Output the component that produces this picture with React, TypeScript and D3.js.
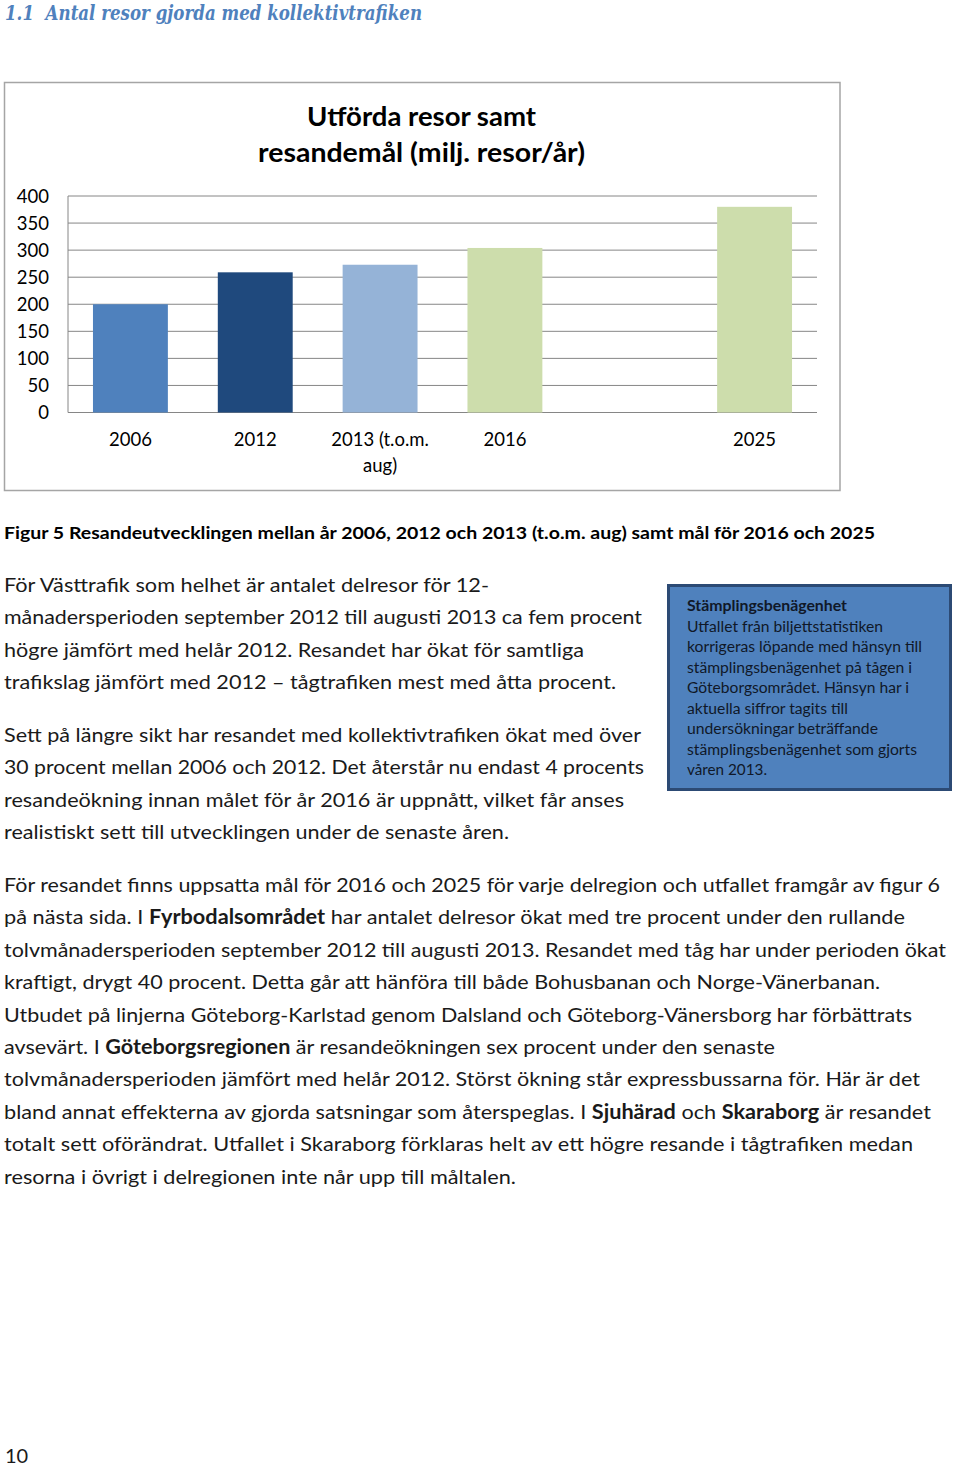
import React, { useEffect } from 'react';
import * as d3 from 'd3';

// ---- Chart data ----
const categories = ['2006', '2012', '2013 (t.o.m.|aug)', '2016', '', '2025'];
const values: (number | null)[] = [200, 259, 273, 304, null, 380];
const barColors = ['#4F81BD', '#1F497D', '#95B3D7', '#CDDDAC', 'none', '#CDDDAC'];
const yTicks = [0, 50, 100, 150, 200, 250, 300, 350, 400];
const chartTitle = ['Utförda resor samt', 'resandemål (milj. resor/år)'];
const chartTitleWidths = [229, 327];

// ---- Document text ----
const heading = '1.1  Antal resor gjorda med kollektivtrafiken';
const caption = 'Figur 5 Resandeutvecklingen mellan år 2006, 2012 och 2013 (t.o.m. aug) samt mål för 2016 och 2025';
const para1 = [
  'För Västtrafik som helhet är antalet delresor för 12-',
  'månadersperioden september 2012 till augusti 2013 ca fem procent',
  'högre jämfört med helår 2012. Resandet har ökat för samtliga',
  'trafikslag jämfört med 2012 – tågtrafiken mest med åtta procent.',
];
const para1Ends = [489, 642, 584, 616];
const para2 = [
  'Sett på längre sikt har resandet med kollektivtrafiken ökat med över',
  '30 procent mellan 2006 och 2012. Det återstår nu endast 4 procents',
  'resandeökning innan målet för år 2016 är uppnått, vilket får anses',
  'realistiskt sett till utvecklingen under de senaste åren.',
];
const para2Ends = [641, 644, 624, 509];
const para3 = [
  'För resandet finns uppsatta mål för 2016 och 2025 för varje delregion och utfallet framgår av figur 6',
  'på nästa sida. I **Fyrbodalsområdet** har antalet delresor ökat med tre procent under den rullande',
  'tolvmånadersperioden september 2012 till augusti 2013. Resandet med tåg har under perioden ökat',
  'kraftigt, drygt 40 procent. Detta går att hänföra till både Bohusbanan och Norge-Vänerbanan.',
  'Utbudet på linjerna Göteborg-Karlstad genom Dalsland och Göteborg-Vänersborg har förbättrats',
  'avsevärt. I **Göteborgsregionen** är resandeökningen sex procent under den senaste',
  'tolvmånadersperioden jämfört med helår 2012. Störst ökning står expressbussarna för. Här är det',
  'bland annat effekterna av gjorda satsningar som återspeglas. I **Sjuhärad** och **Skaraborg** är resandet',
  'totalt sett oförändrat. Utfallet i Skaraborg förklaras helt av ett högre resande i tågtrafiken medan',
  'resorna i övrigt i delregionen inte når upp till måltalen.',
];
const para3Ends = [940, 905, 946, 880, 912, 775, 920, 931, 913, 516];
const boxLines = [
  '**Stämplingsbenägenhet**',
  'Utfallet från biljettstatistiken',
  'korrigeras löpande med hänsyn till',
  'stämplingsbenägenhet på tågen i',
  'Göteborgsområdet. Hänsyn har i',
  'aktuella siffror tagits till',
  'undersökningar beträffande',
  'stämplingsbenägenhet som gjorts',
  'våren 2013.',
];
const boxEnds = [847, 883, 922, 912, 909, 848, 878, 917, 767];

const FONT = 'Lato, "Open Sans", sans-serif';

function Line(props: {
  x: number; y: number; text: string; end?: number; size: number;
  weight?: string; fill?: string; family?: string; italic?: boolean;
}) {
  const { x, y, text, end, size, weight = 'normal', fill = '#1a1a1a', family = FONT, italic } = props;
  const parts = text.split('**');
  return (
    <text
      x={x}
      y={y}
      fontSize={size}
      fontFamily={family}
      fontWeight={weight}
      fontStyle={italic ? 'italic' : 'normal'}
      fill={fill}
      textLength={end !== undefined ? end - x : undefined}
      lengthAdjust="spacingAndGlyphs"
      style={{ whiteSpace: 'pre' }}
    >
      {parts.map((p, i) => (
        <tspan key={i} fontWeight={i % 2 === 1 ? 'bold' : weight}>{p}</tspan>
      ))}
    </text>
  );
}

export default function App() {
  useEffect(() => {
    document.body.style.margin = '0';
  }, []);

  const W = 960;
  const H = 1467;

  // chart geometry
  const plotLeft = 68;
  const plotRight = 817;
  const plotTop = 196;
  const plotBottom = 412.5;

  const x = d3
    .scaleBand<number>()
    .domain(categories.map((_, i) => i))
    .range([plotLeft, plotRight])
    .paddingInner(0.4)
    .paddingOuter(0.2);
  const y = d3.scaleLinear().domain([0, 400]).range([plotBottom, plotTop]);

  const grid = '#868686';

  return (
    <svg width={W} height={H} viewBox={`0 0 ${W} ${H}`} style={{ display: 'block', background: '#fff' }}>
      {/* Heading */}
      <Line x={5} y={20} text={heading} end={422} size={20} weight="bold" italic fill="#4F81BD"
        family='"DejaVu Serif", "Liberation Serif", serif' />

      {/* Chart frame */}
      <rect x={4.5} y={82.5} width={835.5} height={408} fill="#fff" stroke="#A5A5A5" strokeWidth={1.5} />

      {/* Chart title */}
      {chartTitle.map((t, i) => (
        <text key={i} x={421.5} y={126 + i * 36} textAnchor="middle" fontFamily={FONT}
          fontWeight="bold" fontSize={26.5} fill="#000" textLength={chartTitleWidths[i]}
          lengthAdjust="spacingAndGlyphs">{t}</text>
      ))}

      {/* Gridlines */}
      {yTicks.map((t) => (
        <line key={t} x1={plotLeft} x2={plotRight} y1={y(t)} y2={y(t)} stroke={grid} strokeWidth={1} />
      ))}
      <line x1={plotLeft} x2={plotLeft} y1={plotTop} y2={plotBottom} stroke={grid} strokeWidth={1} />

      {/* Y tick labels */}
      {yTicks.map((t) => (
        <text key={t} x={49} y={y(t)} dy="0.36em" textAnchor="end" fontFamily={FONT}
          fontSize={18.5} fill="#000">{t}</text>
      ))}

      {/* Bars */}
      {values.map((v, i) =>
        v === null ? null : (
          <rect key={i} x={x(i)} y={y(v)} width={x.bandwidth()} height={plotBottom - y(v)} fill={barColors[i]} />
        )
      )}

      {/* X labels */}
      {categories.map((c, i) => {
        const cx = (x(i) as number) + x.bandwidth() / 2;
        return c.split('|').map((ln, j) => (
          <text key={`${i}-${j}`} x={cx} y={446 + j * 26} textAnchor="middle" fontFamily={FONT}
            fontSize={18.5} fill="#000">{ln}</text>
        ));
      })}

      {/* Caption */}
      <Line x={4} y={539} text={caption} end={875} size={17.5} weight="bold" fill="#000" />

      {/* Paragraph 1 */}
      {para1.map((t, i) => (
        <Line key={i} x={4} y={592 + i * 32.3} text={t} end={para1Ends[i]} size={20} />
      ))}

      {/* Paragraph 2 */}
      {para2.map((t, i) => (
        <Line key={i} x={4} y={742 + i * 32.3} text={t} end={para2Ends[i]} size={20} />
      ))}

      {/* Side box */}
      <rect x={668.5} y={585.5} width={282} height={204} fill="#4F81BD" stroke="#2C4A74" strokeWidth={3} />
      {boxLines.map((t, i) => (
        <Line key={i} x={687} y={611 + i * 20.5} text={t} end={boxEnds[i]} size={14.5} fill="#101828" />
      ))}

      {/* Paragraph 3 */}
      {para3.map((t, i) => (
        <Line key={i} x={4} y={892 + i * 32.4} text={t} end={para3Ends[i]} size={20} />
      ))}

      {/* Page number */}
      <text x={5} y={1463} fontFamily={FONT} fontSize={20} fill="#1a1a1a">10</text>
    </svg>
  );
}
